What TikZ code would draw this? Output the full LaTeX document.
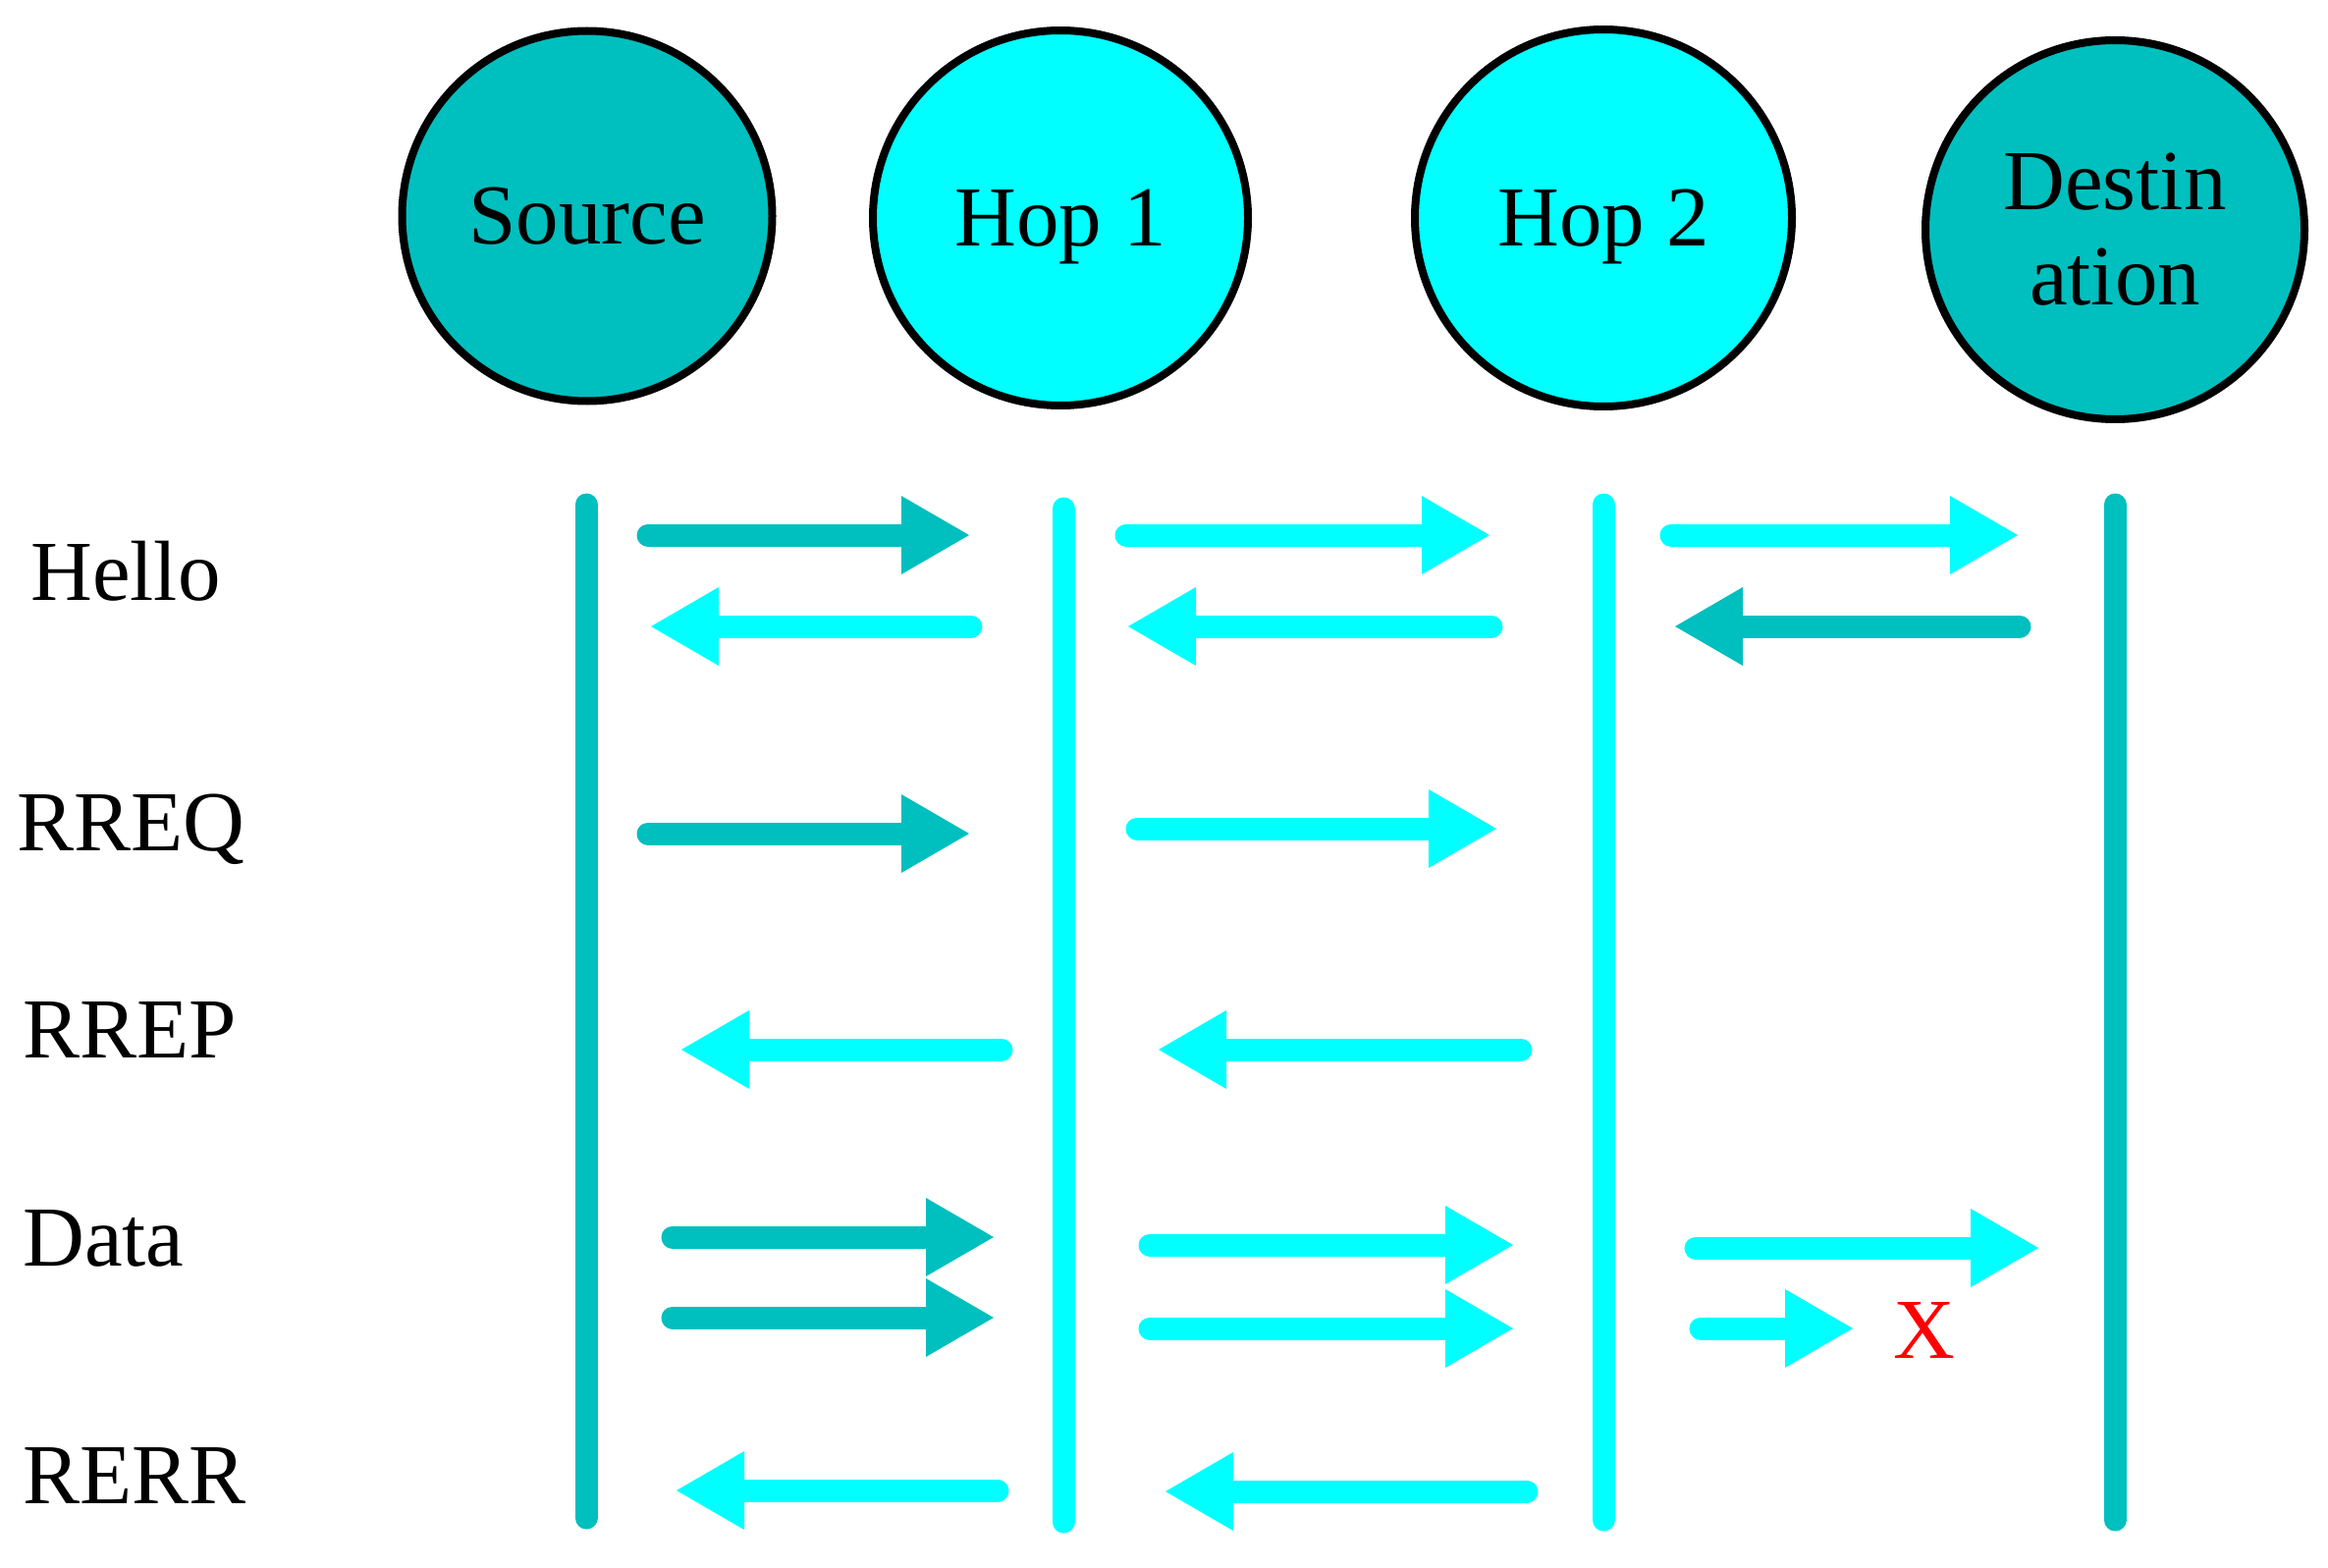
\documentclass[tikz,border=0pt]{standalone}
\usepackage{fontspec}
\setmainfont{Liberation Serif}
\usetikzlibrary{arrows.meta}
\definecolor{tealc}{RGB}{0,191,191}
\definecolor{cyanc}{RGB}{0,255,255}
\begin{document}
\begin{tikzpicture}[x=1pt,y=-1pt,
  big/.style={font=\fontsize{87}{97}\selectfont},
  station/.style={circle, draw=black, line width=8pt, inner sep=0pt, big},
  lane/.style={line width=23pt, line cap=round},
  msg/.style={line width=23pt, line cap=round, -{Triangle[length=69pt,width=80pt,line width=0pt]}},
  lbl/.style={anchor=base west, inner sep=0pt, big}]
\useasboundingbox (0,0) rectangle (2371,1597);
\fill[white] (0,0) rectangle (2371,1597);

% stations
\node[station, fill=tealc, minimum size=377pt, text height=58pt, text depth=0pt] (src) at (598,220) {Source};
\node[station, fill=cyanc, minimum size=382pt, text height=58pt, text depth=0pt] (h1) at (1080,222) {Hop 1};
\node[station, fill=cyanc, minimum size=384pt, text height=58pt, text depth=0pt] (h2) at (1633,222) {Hop 2};
\node[station, fill=tealc, minimum size=386pt, align=center] (dst) at (2154,234) {Destin\\ation};

% lanes
\coordinate (srcT) at (597,514);  \coordinate (srcB) at (597,1546);
\coordinate (h1T) at (1083,518);  \coordinate (h1B) at (1083,1550);
\coordinate (h2T) at (1633,514);  \coordinate (h2B) at (1633,1548);
\coordinate (dstT) at (2154,514); \coordinate (dstB) at (2154,1548);
\draw[lane, tealc] (srcT) -- (srcB);
\draw[lane, cyanc] (h1T) -- (h1B);
\draw[lane, cyanc] (h2T) -- (h2B);
\draw[lane, tealc] (dstT) -- (dstB);

% labels
\node[lbl] (lHello) at (31,611) {Hello};
\node[lbl] (lRREQ) at (17,866) {RREQ};
\node[lbl] (lRREP) at (23,1077) {RREP};
\node[lbl] (lData) at (23,1289) {Data};
\node[lbl] (lRERR) at (23,1531) {RERR};

% Hello
\coordinate (a1s) at (660,545);  \coordinate (a1e) at (987,545);
\coordinate (a2s) at (1147,545); \coordinate (a2e) at (1517,545);
\coordinate (a3s) at (1702,545); \coordinate (a3e) at (2055,545);
\coordinate (b1s) at (989,638);  \coordinate (b1e) at (663,638);
\coordinate (b2s) at (1519,638); \coordinate (b2e) at (1149,638);
\coordinate (b3s) at (2057,638); \coordinate (b3e) at (1706,638);
\draw[msg, tealc] (a1s) -- (a1e);
\draw[msg, cyanc] (a2s) -- (a2e);
\draw[msg, cyanc] (a3s) -- (a3e);
\draw[msg, cyanc] (b1s) -- (b1e);
\draw[msg, cyanc] (b2s) -- (b2e);
\draw[msg, tealc] (b3s) -- (b3e);

% RREQ
\coordinate (c1s) at (660,849);  \coordinate (c1e) at (987,849);
\coordinate (c2s) at (1158,844); \coordinate (c2e) at (1524,844);
\draw[msg, tealc] (c1s) -- (c1e);
\draw[msg, cyanc] (c2s) -- (c2e);

% RREP
\coordinate (d1s) at (1020,1069); \coordinate (d1e) at (694,1069);
\coordinate (d2s) at (1549,1069); \coordinate (d2e) at (1180,1069);
\draw[msg, cyanc] (d1s) -- (d1e);
\draw[msg, cyanc] (d2s) -- (d2e);

% Data
\coordinate (e1s) at (685,1260);  \coordinate (e1e) at (1012,1260);
\coordinate (e2s) at (685,1342);  \coordinate (e2e) at (1012,1342);
\coordinate (e3s) at (1171,1268); \coordinate (e3e) at (1541,1268);
\coordinate (e4s) at (1171,1353); \coordinate (e4e) at (1541,1353);
\coordinate (e5s) at (1727,1271); \coordinate (e5e) at (2076,1271);
\coordinate (e6s) at (1732,1353); \coordinate (e6e) at (1887,1353);
\draw[msg, tealc] (e1s) -- (e1e);
\draw[msg, tealc] (e2s) -- (e2e);
\draw[msg, cyanc] (e3s) -- (e3e);
\draw[msg, cyanc] (e4s) -- (e4e);
\draw[msg, cyanc] (e5s) -- (e5e);
\draw[msg, cyanc] (e6s) -- (e6e);
\node[lbl, text=red] (brk) at (1928,1383) {X};

% RERR
\coordinate (f1s) at (1016,1518); \coordinate (f1e) at (689,1518);
\coordinate (f2s) at (1555,1519); \coordinate (f2e) at (1187,1519);
\draw[msg, cyanc] (f1s) -- (f1e);
\draw[msg, cyanc] (f2s) -- (f2e);
\end{tikzpicture}
\end{document}
